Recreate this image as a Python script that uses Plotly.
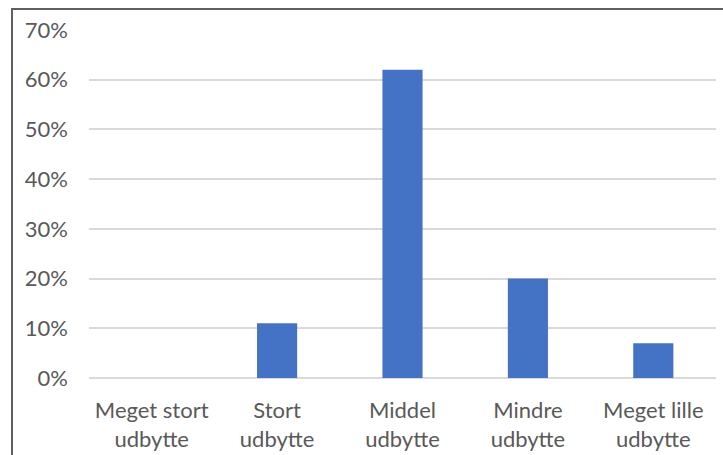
import plotly.graph_objects as go

categories = ["Meget stort<br>udbytte", "Stort<br>udbytte", "Middel<br>udbytte",
              "Mindre<br>udbytte", "Meget lille<br>udbytte"]
shares = [0.0, 0.11, 0.62, 0.20, 0.07]
tick_values = [0, 0.1, 0.2, 0.3, 0.4, 0.5, 0.6, 0.7]
tick_labels = ["0%", "10%", "20%", "30%", "40%", "50%", "60%", "70%"]

W, H = 723, 455
ml, mr, mt, mb = 89, 7, 30, 77
pw, ph = W - ml - mr, H - mt - mb

fig = go.Figure(go.Bar(
    x=categories, y=shares,
    marker=dict(color="#4472C4", line=dict(width=0)),
))

# outer chart frame (only left and top edges fall inside the page)
frame_left = (12 - ml) / pw
frame_top = (H - mb - 9) / ph
fig.add_shape(type="rect", xref="paper", yref="paper",
              x0=frame_left, x1=1.5, y0=-1, y1=frame_top,
              line=dict(color="#5f5f5f", width=2), layer="above")

fig.update_layout(
    width=W, height=H,
    margin=dict(l=ml, r=mr, t=mt, b=mb),
    paper_bgcolor="white", plot_bgcolor="white",
    bargap=0.68, showlegend=False,
    font=dict(family="Lato, Open Sans, sans-serif", size=22, color="#595959"),
)
fig.update_xaxes(showgrid=False, showline=False, ticks="", tickfont=dict(size=22),
                 ticklabelstandoff=17, automargin=False)
fig.update_yaxes(range=[0, 0.7], tickvals=tick_values, ticktext=tick_labels,
                 showgrid=True, gridcolor="#d9d9d9", gridwidth=2,
                 zeroline=True, zerolinecolor="#d9d9d9", zerolinewidth=2,
                 showline=False, ticks="", ticklabelstandoff=20,
                 tickfont=dict(size=22), automargin=False)

fig.write_html("out.html")
